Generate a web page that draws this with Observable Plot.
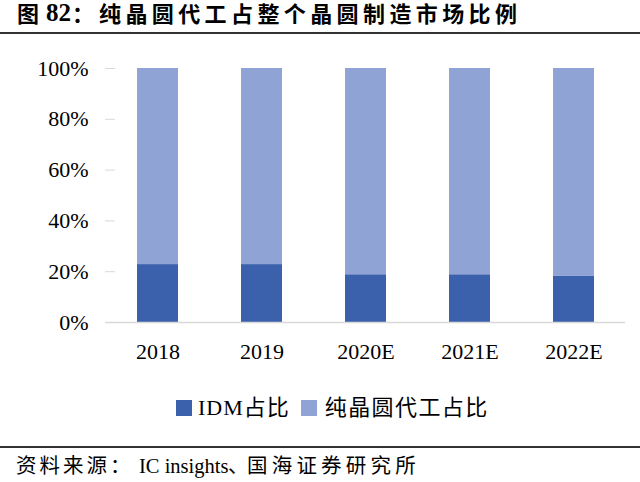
<!DOCTYPE html>
<html>
<head>
<meta charset="utf-8">
<script src="https://cdn.jsdelivr.net/npm/d3@7"></script>
<script src="https://cdn.jsdelivr.net/npm/@observablehq/plot@0.6"></script>
<style>
  html, body { margin: 0; padding: 0; background: #fff; }
  #wrap { position: relative; width: 640px; height: 482px; overflow: hidden; background: #fff;
          font-family: "Liberation Serif", "Times New Roman", "Noto Sans CJK SC", serif; color: #000; }
  .seg { position: absolute; white-space: nowrap; }
  .title { top: 1px; font-size: 22px; font-weight: bold; line-height: 28px; }
  .hr { position: absolute; left: 0; width: 640px; height: 2px; background: #333; }
  #chart { position: absolute; left: 0; top: 40px; }
  #legend { position: absolute; left: 176px; top: 395px; display: flex; align-items: center;
            font-family: "Liberation Serif", "Noto Sans CJK SC", serif; font-size: 22px; line-height: 26px; white-space: nowrap; }
  .item { display: inline-flex; align-items: center; }
  .sw { display: inline-block; width: 16px; height: 16px; }
  .src { top: 453px; font-size: 20.5px; line-height: 26px; }
</style>
</head>
<body>
<div id="wrap">
  <span class="seg title" style="left:17px">图</span>
  <span class="seg title" style="left:46px;font-size:25px;top:-1px">82</span>
  <span class="seg title" style="left:72px">：</span>
  <span class="seg title" style="left:99px;letter-spacing:4.4px">纯晶圆代工占整个晶圆制造市场比例</span>
  <div class="hr" style="top:32px"></div>
  <div id="chart"></div>
  <div id="legend"></div>
  <div class="hr" style="top:446px"></div>
  <span class="seg src" style="left:16px;letter-spacing:3px">资料来源：</span>
  <span class="seg src" style="left:139px">IC insights</span>
  <span class="seg src" style="left:228px">、</span>
  <span class="seg src" style="left:247px;letter-spacing:4.2px">国海证券研究所</span>
</div>
<script>
const years = ["2018", "2019", "2020E", "2021E", "2022E"];
const seriesNames = ["IDM占比", "纯晶圆代工占比"];
const idmShare = [22.8, 22.8, 18.8, 18.8, 18.3];
const foundryShare = [77.2, 77.2, 81.2, 81.2, 81.7];
const yTicks = [0, 20, 40, 60, 80, 100];
const colors = ["#3b60ac", "#8fa4d4"];

const rows = [];
years.forEach((yr, i) => {
  rows.push({year: yr, series: seriesNames[0], value: idmShare[i]});
  rows.push({year: yr, series: seriesNames[1], value: foundryShare[i]});
});

const chart = Plot.plot({
  width: 640,
  height: 330,
  marginTop: 28,
  marginBottom: 48,
  marginLeft: 105,
  marginRight: 15,
  style: {fontFamily: "'Liberation Serif', 'Times New Roman', serif", fontSize: "22px", color: "#000", background: "white", overflow: "visible"},
  x: {domain: years, paddingInner: 0.606, paddingOuter: 0.303, label: null},
  y: {domain: [0, 100], label: null},
  color: {domain: seriesNames, range: colors},
  marks: [
    Plot.barY(rows, {x: "year", y: "value", fill: "series"}),
    Plot.ruleY([0], {stroke: "#d9d9d9", strokeWidth: 1.5}),
    Plot.ruleY(yTicks, {stroke: "#d9d9d9", insetRight: 510}),
    Plot.axisY({ticks: yTicks, tickFormat: d => d + "%", tickSize: 0, tickPadding: 17, line: true, stroke: "#d9d9d9", fill: "#000", label: null}),
    Plot.axisX({tickSize: 0, tickPadding: 21, fill: "#000", label: null})
  ]
});
document.getElementById("chart").appendChild(chart);

const legend = document.getElementById("legend");
const legendStyles = [
  {gap: "6px", spacing: "1px", after: "11px"},
  {gap: "8px", spacing: "1.4px", after: "0px"}
];
seriesNames.forEach((s, i) => {
  const item = document.createElement("span");
  item.className = "item";
  item.style.marginRight = legendStyles[i].after;
  const sw = document.createElement("span");
  sw.className = "sw";
  sw.style.background = colors[i];
  sw.style.marginRight = legendStyles[i].gap;
  item.appendChild(sw);
  const t = document.createElement("span");
  t.textContent = s;
  t.style.letterSpacing = legendStyles[i].spacing;
  item.appendChild(t);
  legend.appendChild(item);
});
</script>
</body>
</html>
